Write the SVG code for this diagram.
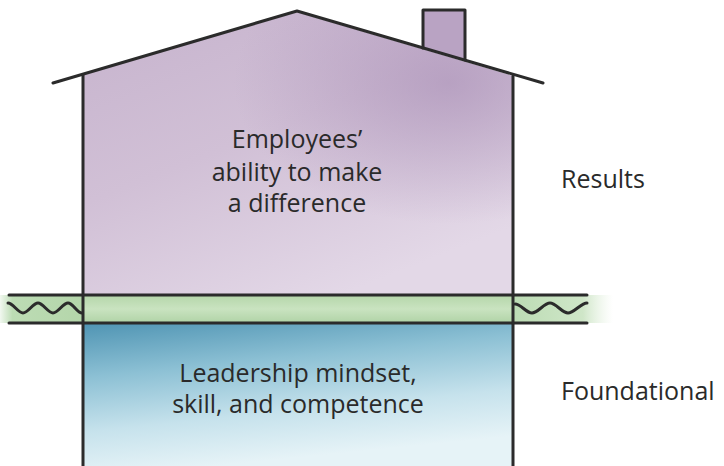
<svg xmlns="http://www.w3.org/2000/svg" width="724" height="466" viewBox="0 0 724 466">
  <defs>
    <linearGradient id="roomUpper" x1="0" y1="0" x2="0.6" y2="1">
      <stop offset="0" stop-color="#c6b3cd"/>
      <stop offset="0.5" stop-color="#d1c0d6"/>
      <stop offset="1" stop-color="#e3d8e7"/>
    </linearGradient>
    <radialGradient id="upperShade" cx="0.85" cy="0.25" r="0.5">
      <stop offset="0" stop-color="#a98fb6" stop-opacity="0.65"/>
      <stop offset="1" stop-color="#a98fb6" stop-opacity="0"/>
    </radialGradient>
    <linearGradient id="roomLower" x1="0" y1="0" x2="0.3" y2="1">
      <stop offset="0" stop-color="#4f94b3"/>
      <stop offset="0.35" stop-color="#8cc0d4"/>
      <stop offset="0.7" stop-color="#c6e2ec"/>
      <stop offset="1" stop-color="#e6f3f7"/>
    </linearGradient>
    <linearGradient id="bandLeft" x1="0" y1="0" x2="1" y2="0">
      <stop offset="0" stop-color="#bcdcb4" stop-opacity="0.2"/>
      <stop offset="0.15" stop-color="#bcdcb4"/>
      <stop offset="1" stop-color="#b4d6aa"/>
    </linearGradient>
    <linearGradient id="bandRight" x1="0" y1="0" x2="1" y2="0">
      <stop offset="0" stop-color="#bcdcb4"/>
      <stop offset="0.7" stop-color="#cfe6c8"/>
      <stop offset="1" stop-color="#e4f1df" stop-opacity="0"/>
    </linearGradient>
    <linearGradient id="bandMid" x1="0" y1="0" x2="0" y2="1">
      <stop offset="0" stop-color="#b5d6aa"/>
      <stop offset="0.5" stop-color="#c9e3c0"/>
      <stop offset="1" stop-color="#b0d3a6"/>
    </linearGradient>
  </defs>
  <style>
    .line { fill: none; stroke: #2b2b2b; stroke-width: 3; stroke-linecap: round; stroke-linejoin: round; }
    .label { font-family: "Open Sans", "Noto Sans", sans-serif; font-size: 25px; fill: #2a2a2a; }
    .centre { text-anchor: middle; }
  </style>

  <!-- fills -->
  <g id="fills">
    <path d="M83,75 L297,12 L513,76 L513,295 L83,295 Z" fill="url(#roomUpper)"/>
    <path d="M83,75 L297,12 L513,76 L513,295 L83,295 Z" fill="url(#upperShade)"/>
    <path d="M423,48 L423,10 L465,10 L465,60 Z" fill="#b9a3c3"/>
    <rect x="83" y="323" width="430" height="143" fill="url(#roomLower)"/>
    <rect x="0" y="295" width="83" height="28" fill="url(#bandLeft)"/>
    <rect x="83" y="295" width="430" height="28" fill="url(#bandMid)"/>
    <rect x="513" y="295" width="100" height="28" fill="url(#bandRight)"/>
  </g>

  <!-- house outline -->
  <g id="house">
    <path class="line" d="M53,83 L297,11 L543,83"/>
    <path class="line" d="M423,48 L423,10 L465,10 L465,60"/>
    <path class="line" d="M83,75 L83,466"/>
    <path class="line" d="M513,76 L513,466"/>
  </g>

  <!-- ground band with wavy soil line either side -->
  <g id="ground">
    <path class="line" d="M9,295 L513,295 M9,323 L513,323"/>
    <path class="line" d="M513,295 L587,295 M513,323 L587,323"/>
    <path class="line" d="M8,303 C13,303 18,313 23,313 C28,313 33,303 38,303 C43,303 48,313 53,313 C58,313 63,303 68,303 C73,303 77,313 82,313"/>
    <path class="line" d="M515,304 C521,304 526,313 532,313 C538,313 544,303 550,303 C556,303 562,313 568,313 C574,313 581,303 587,303"/>
  </g>

  <g id="upper-room">
    <text class="label centre" x="297" y="148">Employees’</text>
    <text class="label centre" x="297" y="181">ability to make</text>
    <text class="label centre" x="297" y="212">a difference</text>
  </g>

  <g id="lower-room">
    <text class="label centre" x="298" y="382">Leadership mindset,</text>
    <text class="label centre" x="298" y="413">skill, and competence</text>
  </g>

  <g id="levels">
    <text class="label" x="561" y="188">Results</text>
    <text class="label" x="561" y="400">Foundational</text>
  </g>
</svg>
